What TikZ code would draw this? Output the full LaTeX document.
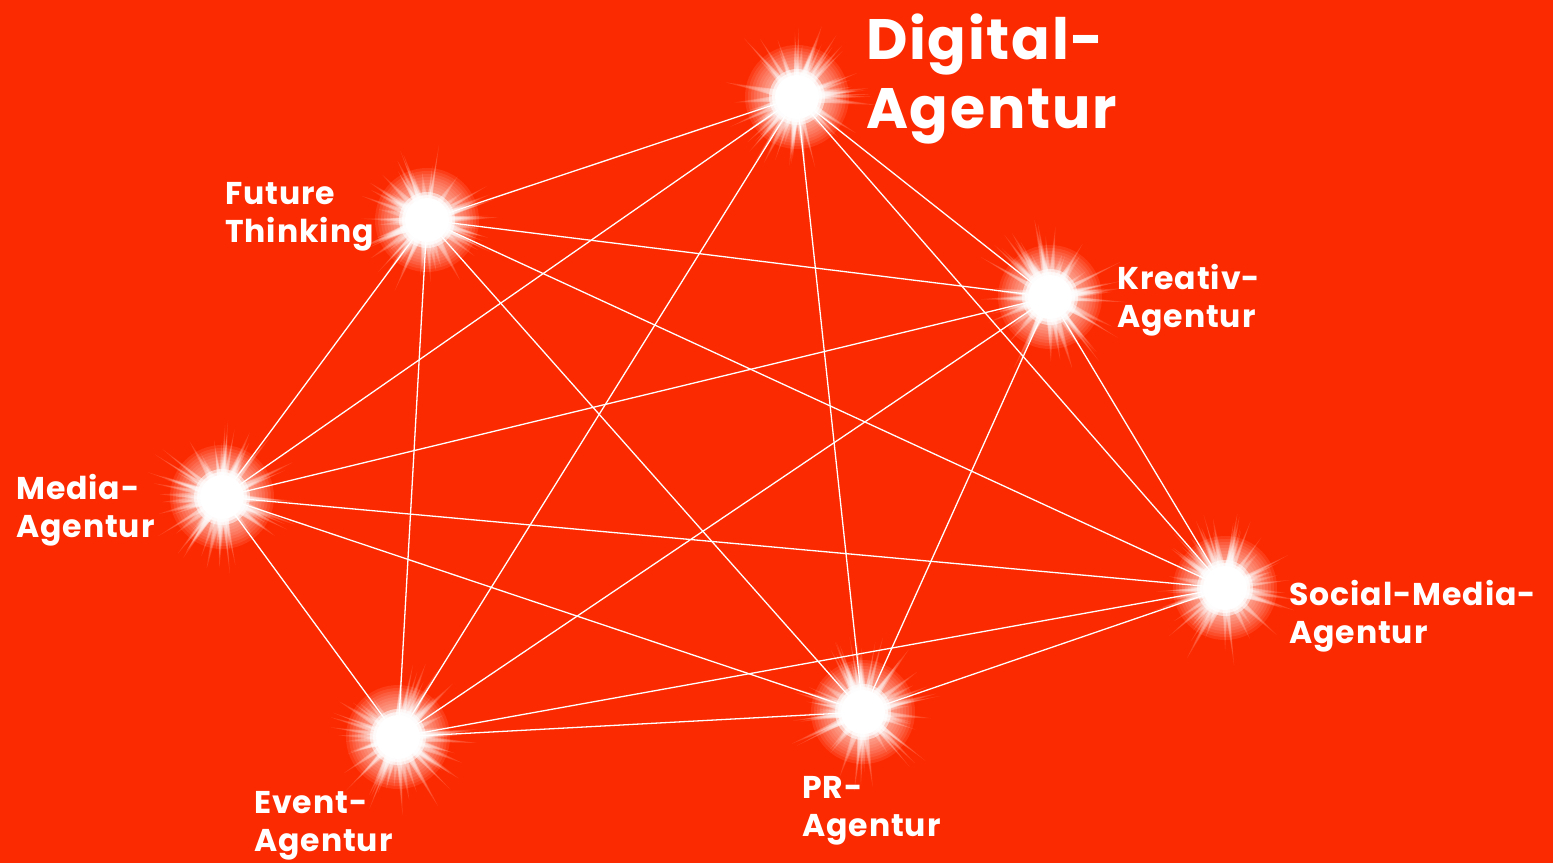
\documentclass[tikz,border=0pt]{standalone}
\usepackage{fontspec}
\setmainfont{Poppins}[LetterSpace=3]
\definecolor{bgred}{RGB}{252,42,0}
\tikzset{
  hub/.style={circle,inner sep=0pt,minimum size=2pt},
  link/.style={white,line width=1.3pt},
  lbl/.style={text=white,font=\bfseries\fontsize{31.5}{38}\selectfont,align=left,inner sep=0pt,anchor=west},
  biglbl/.style={text=white,font=\bfseries\fontsize{57}{69}\selectfont,align=left,inner sep=0pt,anchor=west}
}
\newcommand{\myglow}[1]{%
  \foreach \i in {1,...,60}{%
    \pgfmathsetmacro{\ang}{rnd*360}%
    \pgfmathsetmacro{\len}{44+rnd*36}%
    \pgfmathsetmacro{\wid}{4+rnd*5}%
    \pgfmathsetmacro{\aa}{\ang-\wid}%
    \pgfmathsetmacro{\ab}{\ang+\wid}%
    \foreach \f in {1,0.85,0.72,0.6,0.5}{%
      \pgfmathsetmacro{\ll}{\f*\len}%
      \fill[white,opacity=0.13,shift={(#1)}] (0pt,0pt) -- (\aa:24pt) -- (\ang:\ll pt) -- (\ab:24pt) -- cycle;
    }%
  }%
  \foreach \r in {52,49,46,43,40,37,34,31,28}{%
    \fill[white,opacity=0.09] (#1) circle (\r pt);
  }%
  \fill[white,opacity=0.5] (#1) circle (28pt);
  \fill[white,opacity=0.7] (#1) circle (25pt);
  \fill[white] (#1) circle (22pt);
}
\begin{document}
\begin{tikzpicture}[x=1pt,y=-1pt]
\pgfmathsetseed{11}
\fill[bgred] (0,0) rectangle (1553,863);
\useasboundingbox (0,0) rectangle (1553,863);
\node[hub] (D) at (797,97) {};
\node[hub] (F) at (427,220) {};
\node[hub] (K) at (1050,297) {};
\node[hub] (M) at (222,497) {};
\node[hub] (S) at (1225,588) {};
\node[hub] (P) at (863,712) {};
\node[hub] (E) at (398,737) {};
\foreach \a/\b in {D/F,D/K,D/M,D/S,D/P,D/E,F/K,F/M,F/S,F/P,F/E,K/M,K/S,K/P,K/E,M/S,M/P,M/E,S/P,S/E,P/E}{
  \draw[link] (\a.center) -- (\b.center);
}
\myglow{D}
\myglow{F}
\myglow{K}
\myglow{M}
\myglow{S}
\myglow{P}
\myglow{E}
\node[biglbl] (tD) at (866,79) {Digital-\\Agentur};
\node[lbl] (tF) at (225,217) {Future\\Thinking};
\node[lbl] (tK) at (1117,300) {Kreativ-\\Agentur};
\node[lbl] (tM) at (16,510) {Media-\\Agentur};
\node[lbl] (tS) at (1289,616) {Social-Media-\\Agentur};
\node[lbl] (tP) at (802,811) {PR-\\Agentur};
\node[lbl] (tE) at (254,826) {Event-\\Agentur};
\end{tikzpicture}
\end{document}
